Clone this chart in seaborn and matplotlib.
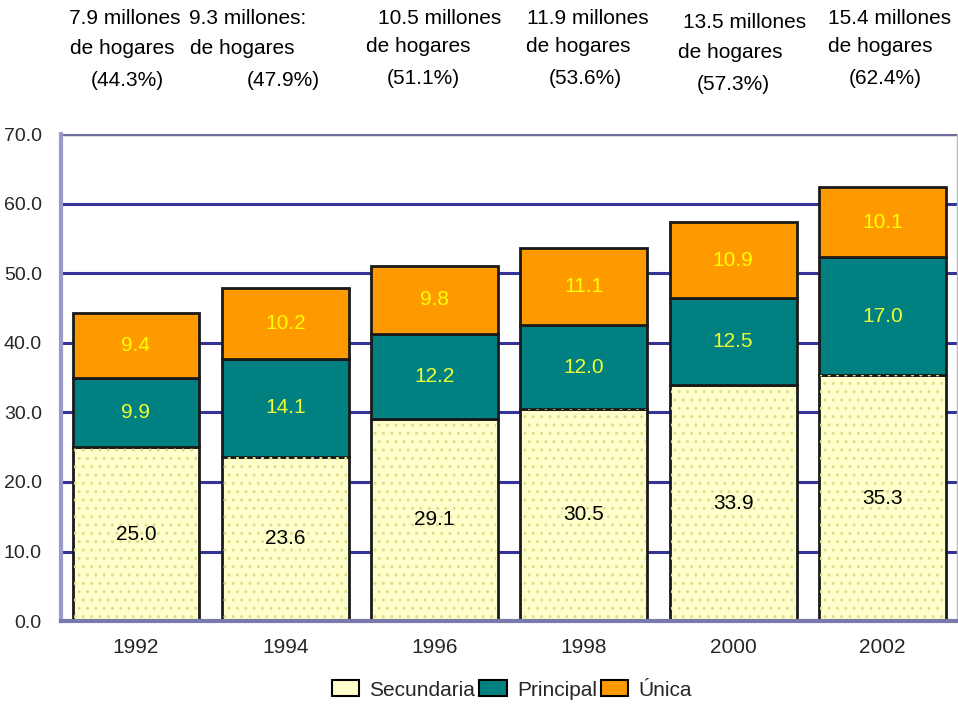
import matplotlib
matplotlib.use('Agg')
import matplotlib.pyplot as plt
from matplotlib.patches import Patch
import seaborn as sns
import pandas as pd
import numpy as np

sns.set_theme(style='white')
plt.rcParams['font.family'] = ['Liberation Sans', 'DejaVu Sans']

# data
years = ['1992', '1994', '1996', '1998', '2000', '2002']
secundaria = [25.0, 23.6, 29.1, 30.5, 33.9, 35.3]
principal = [9.9, 14.1, 12.2, 12.0, 12.5, 17.0]
unica = [9.4, 10.2, 9.8, 11.1, 10.9, 10.1]
top_notes = [
    ['7.9 millones', 'de hogares', '(44.3%)'],
    ['9.3 millones:', 'de hogares', '(47.9%)'],
    ['10.5 millones', 'de hogares', '(51.1%)'],
    ['11.9 millones', 'de hogares', '(53.6%)'],
    ['13.5 millones', 'de hogares', '(57.3%)'],
    ['15.4 millones', 'de hogares', '(62.4%)'],
]

df = pd.DataFrame({'year': years, 'Secundaria': secundaria,
                   'Principal': principal, 'Única': unica})

colors = {'Secundaria': '#FFFFCC', 'Principal': '#008080', 'Única': '#FF9900'}
label_colors = {'Secundaria': 'black', 'Principal': '#EEFF33', 'Única': '#FFFF00'}

fig = plt.figure(figsize=(9.58, 7.09), dpi=100)
ax = fig.add_axes([0.064, 0.124, 0.935, 0.687])

# grid lines behind bars
for y in range(10, 70, 10):
    ax.axhline(y, color='#33339A', lw=2.2, zorder=0)
ax.axhline(70, color='#6E6E9E', lw=2.5, zorder=0)

bottom = np.zeros(len(years))
for series in ['Secundaria', 'Principal', 'Única']:
    sns.barplot(data=df, x='year', y=series, ax=ax, color=colors[series],
                width=0.85, bottom=bottom, edgecolor='#1a1a1a', linewidth=2,
                saturation=1, zorder=2)
    vals = df[series].values
    if series == 'Secundaria':
        # dotted texture on the light segments
        ax.bar(np.arange(len(years)), vals, width=0.83, facecolor='none',
               edgecolor='#DEDE8A', hatch='..', linewidth=0, zorder=3)
    for i, v in enumerate(vals):
        ax.text(i, bottom[i] + v / 2, f'{v:.1f}', ha='center', va='center',
                fontsize=15, color=label_colors[series], zorder=4)
    bottom = bottom + vals

ax.set_xlim(-0.5, 5.5)
ax.set_ylim(0, 70)
ax.set_yticks(range(0, 80, 10))
ax.set_yticklabels([f'{t:.1f}' for t in range(0, 80, 10)], fontsize=14)
ax.set_xticks(range(len(years)))
ax.set_xticklabels(years, fontsize=15)
ax.set_xlabel('')
ax.set_ylabel('')
ax.tick_params(axis='y', length=0, pad=14)
ax.tick_params(axis='x', length=0, pad=12)

ax.spines['top'].set_visible(False)
ax.spines['left'].set_color('#9A9ACC')
ax.spines['left'].set_linewidth(3)
ax.spines['bottom'].set_color('#7A7AAA')
ax.spines['bottom'].set_linewidth(3)
ax.spines['right'].set_color('#BBBBBB')
ax.spines['right'].set_linewidth(1)

# notes above the bars
note_x = [[125, 122, 127], [248, 242, 283], [440, 418, 423],
          [588, 578, 585], [745, 730, 733], [890, 880, 885]]
note_y = [[18, 48, 80], [18, 48, 80], [18, 46, 78],
          [18, 46, 78], [22, 53, 84], [18, 46, 78]]
for lines, xs, ys in zip(top_notes, note_x, note_y):
    for t, xp, yp in zip(lines, xs, ys):
        fig.text(xp / 958, 1 - yp / 709, t, ha='center', va='center',
                 fontsize=15, color='black')

# legend
handles = [Patch(facecolor=colors[s], edgecolor='black', linewidth=1.5)
           for s in ['Secundaria', 'Principal', 'Única']]
fig.legend(handles, ['Secundaria', 'Principal', 'Única'], loc='center',
           bbox_to_anchor=(512 / 958, 1 - 690 / 709), ncol=3, frameon=False,
           fontsize=15, handlelength=1.3, handleheight=0.8,
           handletextpad=0.5, columnspacing=0.2)

fig.savefig('out.png', dpi=100)
